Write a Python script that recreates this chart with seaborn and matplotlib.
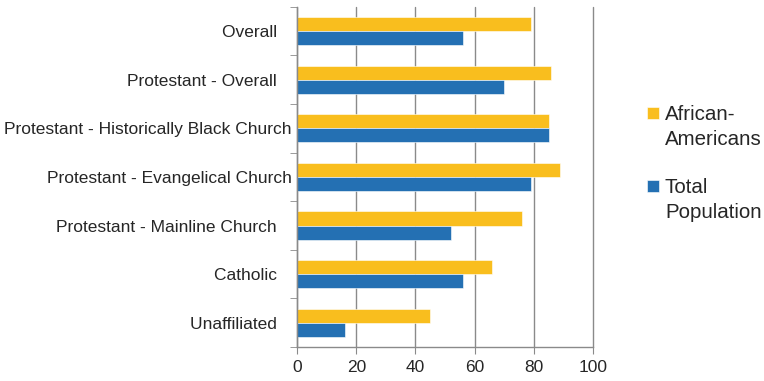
import pandas as pd
import matplotlib.pyplot as plt
import matplotlib.patches as mpatches
from matplotlib.legend_handler import HandlerPatch
import seaborn as sns

categories = [
    "Overall   ",
    "Protestant - Overall   ",
    "Protestant - Historically Black Church",
    "Protestant - Evangelical Church",
    "Protestant - Mainline Church   ",
    "Catholic   ",
    "Unaffiliated   ",
]
african_americans = [79, 86, 85, 89, 76, 66, 45]
total_population = [56, 70, 85, 79, 52, 56, 16]
series = ["African-\nAmericans", "Total\nPopulation"]
colors = ["#F9BE1E", "#2470B3"]

df = pd.DataFrame({
    "category": categories * 2,
    "value": african_americans + total_population,
    "series": [series[0]] * len(categories) + [series[1]] * len(categories),
})

sns.set_style("white")
plt.rcParams["font.family"] = ["Liberation Sans", "DejaVu Sans"]

fig = plt.figure(figsize=(7.64, 3.81), dpi=100)
ax = fig.add_axes([0.389, 0.089, 0.387, 0.893])

sns.barplot(data=df, y="category", x="value", hue="series", orient="h",
            palette=colors, width=0.58, ax=ax, saturation=1,
            edgecolor="white", linewidth=0.4)

ax.set_xlim(0, 100)
ax.set_xticks([0, 20, 40, 60, 80, 100])
ax.set_ylim(len(categories) - 0.5, -0.5)
ax.grid(axis="x", color="#8a8a8a", linewidth=1)
for line in ax.get_xgridlines():
    line.set_clip_on(False)
ax.set_axisbelow(True)
ax.set_xlabel("")
ax.set_ylabel("")

for s in ["top", "right"]:
    ax.spines[s].set_visible(False)
for s in ["left", "bottom"]:
    ax.spines[s].set_color("#8a8a8a")
    ax.spines[s].set_linewidth(1)

ax.tick_params(axis="x", length=5, color="#8a8a8a", labelsize=12.5, pad=4, direction="out", bottom=True)
ax.tick_params(axis="y", length=0, labelsize=12.5, pad=4)
ax.set_yticks(range(len(categories)), minor=False)
ax.set_yticks([i - 0.5 for i in range(len(categories) + 1)], minor=True)
ax.tick_params(axis="y", which="minor", length=5, color="#8a8a8a", left=True)


# small square sitting next to the first line of each legend label
def top_square(legend, orig_handle, xdescent, ydescent, width, height, fontsize):
    s = 0.58 * fontsize
    return mpatches.Rectangle((-xdescent, -ydescent + height - s + 3.6), s, s)


handles, labels = ax.get_legend_handles_labels()
leg = ax.legend(handles, labels, loc="center left", bbox_to_anchor=(1.12, 0.54),
                frameon=False, fontsize=14.8, handlelength=0.58, handleheight=2.0,
                handletextpad=0.3, labelspacing=1.4,
                handler_map={mpatches.Rectangle: HandlerPatch(patch_func=top_square)})
for t in leg.get_texts():
    t.set_linespacing(1.4)

fig.savefig("out.png", dpi=100)
